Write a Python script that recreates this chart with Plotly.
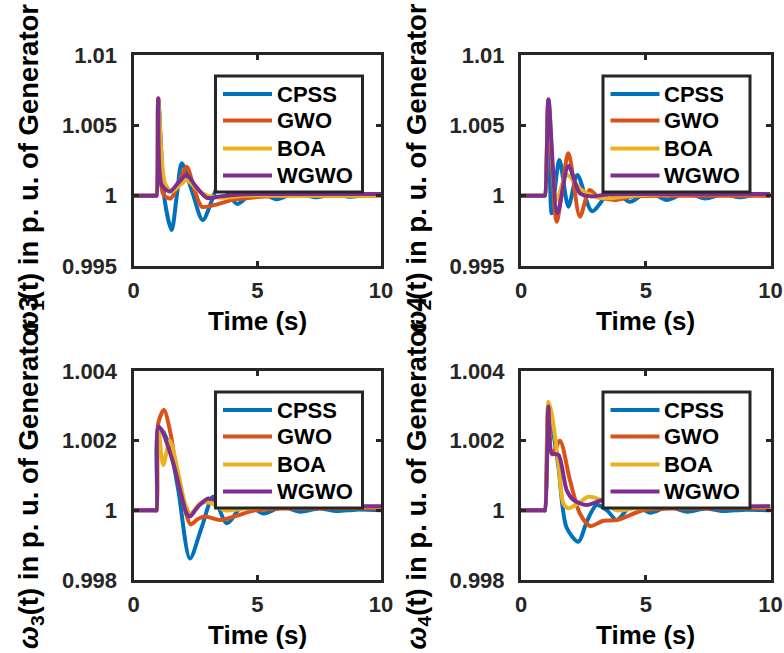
import plotly.graph_objects as go

# speed response of the four generators
# time (s) / speed (p.u.) pairs, one pair of lists per controller

# generator 1 (top left)
g1_cpss_t = [0, 0.9, 0.93, 1.0, 1.25, 1.54, 1.75, 1.95, 2.37, 2.8, 3.5, 4.19, 4.95, 5.78, 6.55, 7.33, 8.05, 8.75, 9.4, 10]
g1_cpss = [1.0, 1.0, 1.0, 1.0069, 0.9998, 0.99756, 1.0, 1.0023, 1.0003, 0.99827, 1.0008, 0.99941, 1.0004, 0.99974, 1.0002, 0.99989, 1.0001, 0.99993, 1.00005, 0.99998]
g1_gwo_t = [0, 0.9, 0.93, 1.0, 1.2, 1.5, 1.8, 2.15, 2.45, 2.76, 3.3, 4.0, 5.0, 6.0, 8.0, 10]
g1_gwo = [1.0, 1.0, 1.0, 1.0069, 1.0001, 0.9998, 1.0008, 1.00206, 1.0005, 0.99922, 0.99935, 0.9997, 0.9999, 1.0, 1.0, 1.0]
g1_boa_t = [0, 0.9, 0.93, 1.0, 1.27, 1.54, 1.85, 2.15, 2.6, 3.0, 3.6, 4.5, 6.0, 8.0, 10]
g1_boa = [1.0, 1.0, 1.0, 1.0068, 1.00088, 1.0003, 1.0007, 1.0011, 1.0004, 1.0, 0.99985, 1.0, 1.0, 1.0, 1.0]
g1_wgwo_t = [0, 0.9, 0.93, 1.0, 1.14, 1.47, 1.8, 2.15, 2.5, 2.96, 3.5, 4.5, 6.0, 8.0, 10]
g1_wgwo = [1.0, 1.0, 1.0, 1.0069, 1.00076, 1.0003, 1.0009, 1.00147, 1.0007, 0.99985, 0.99995, 1.0001, 1.00012, 1.00012, 1.00012]

# generator 2 (top right)
g2_cpss_t = [0, 0.93, 0.96, 1.1, 1.23, 1.54, 1.9, 2.26, 2.85, 3.65, 4.37, 5.1, 5.84, 6.6, 7.38, 8.1, 8.78, 9.4, 10]
g2_cpss = [1.0, 1.0, 1.0, 1.0068, 0.99875, 1.00254, 0.99922, 1.00147, 0.9989, 1.0004, 0.99957, 1.0003, 0.9997, 1.0002, 0.9998, 1.0001, 0.99988, 1.00005, 0.99995]
g2_gwo_t = [0, 0.93, 0.96, 1.1, 1.43, 1.9, 2.36, 2.75, 3.1, 3.8, 4.5, 6.0, 10]
g2_gwo = [1.0, 1.0, 1.0, 1.0068, 0.99815, 1.00301, 0.99851, 1.0004, 0.9999, 0.9997, 0.99995, 1.0, 1.0]
g2_boa_t = [0, 0.93, 0.96, 1.1, 1.43, 1.83, 2.43, 3.0, 3.4, 4.5, 6.0, 10]
g2_boa = [1.0, 1.0, 1.0, 1.0068, 0.9997, 1.00147, 1.0004, 0.9999, 0.9998, 1.0, 1.0001, 1.0001]
g2_wgwo_t = [0, 0.93, 0.96, 1.1, 1.46, 1.9, 2.36, 2.8, 3.5, 5.0, 10]
g2_wgwo = [1.0, 1.0, 1.0, 1.00685, 0.99875, 1.00211, 1.00017, 0.99995, 1.0001, 1.00012, 1.00012]

# generator 3 (bottom left)
g3_cpss_t = [0, 0.9, 0.93, 1.0, 1.14, 1.47, 1.81, 2.28, 2.75, 3.22, 3.77, 4.5, 5.24, 6.0, 6.73, 7.5, 8.2, 9.0, 10]
g3_cpss = [1.0, 1.0, 1.0, 1.0023, 1.0023, 1.0018, 1.00058, 0.99862, 0.9995, 1.00039, 0.99963, 1.0002, 0.99991, 1.0001, 0.99996, 1.00005, 0.99998, 1.00002, 1.0]
g3_gwo_t = [0, 0.9, 0.93, 1.0, 1.23, 1.5, 1.75, 2.05, 2.3, 2.6, 2.89, 3.5, 4.2, 4.9, 6.0, 8.0, 10]
g3_gwo = [1.0, 1.0, 1.0, 1.0025, 1.00288, 1.0022, 1.00106, 1.0001, 0.9996, 0.99975, 0.99982, 0.99972, 0.99985, 1.0, 1.00005, 1.00006, 1.00006]
g3_boa_t = [0, 0.9, 0.93, 1.0, 1.2, 1.47, 1.8, 2.08, 2.3, 2.7, 3.1, 3.7, 4.5, 6.0, 10]
g3_boa = [1.0, 1.0, 1.0, 1.0024, 1.0013, 1.002, 1.0011, 1.0002, 0.9999, 1.0002, 1.00022, 1.0, 1.00005, 1.0001, 1.0001]
g3_wgwo_t = [0, 0.9, 0.93, 1.0, 1.14, 1.61, 2.15, 2.28, 2.6, 3.02, 3.6, 4.5, 6.0, 10]
g3_wgwo = [1.0, 1.0, 1.0, 1.0024, 1.0023, 1.00135, 0.99991, 0.99982, 1.0001, 1.00034, 1.0002, 1.00012, 1.00012, 1.00012]

# generator 4 (bottom right)
g4_cpss_t = [0, 0.93, 0.96, 1.1, 1.3, 1.5, 1.83, 2.3, 2.65, 3.03, 3.45, 3.84, 4.5, 5.17, 5.9, 6.66, 7.4, 8.1, 9.0, 10]
g4_cpss = [1.0, 1.0, 1.0, 1.0029, 1.0022, 1.00125, 0.9995, 0.9991, 0.9997, 1.00015, 1.0, 0.99972, 1.0002, 0.99993, 1.0001, 0.99996, 1.00005, 0.99998, 1.00002, 1.0]
g4_gwo_t = [0, 0.93, 0.96, 1.1, 1.25, 1.56, 1.96, 2.36, 2.77, 3.3, 3.84, 4.9, 6.0, 10]
g4_gwo = [1.0, 1.0, 1.0, 1.0029, 1.0016, 1.002, 1.00087, 0.99991, 0.99955, 0.9997, 0.99972, 1.0, 1.00005, 1.00006]
g4_boa_t = [0, 0.93, 0.96, 1.1, 1.23, 1.5, 1.7, 1.9, 2.3, 2.7, 3.2, 3.84, 4.5, 6.0, 10]
g4_boa = [1.0, 1.0, 1.0, 1.00312, 1.00278, 1.00135, 1.0002, 1.00006, 1.0002, 1.00039, 1.0003, 1.0, 1.00005, 1.0001, 1.0001]
g4_wgwo_t = [0, 0.93, 0.96, 1.1, 1.23, 1.5, 1.83, 2.1, 2.63, 3.3, 4.0, 5.0, 10]
g4_wgwo = [1.0, 1.0, 1.0, 1.00298, 1.00164, 1.00159, 1.00058, 1.0003, 1.00015, 1.0003, 1.0002, 1.00012, 1.00012]

controllers = ["CPSS", "GWO", "BOA", "WGWO"]
x_ticks = [0, 5, 10]
y_ticks_top = [0.995, 1, 1.005, 1.01]
y_ticks_bottom = [0.998, 1, 1.002, 1.004]

panels = [
    [(g1_cpss_t, g1_cpss), (g1_gwo_t, g1_gwo), (g1_boa_t, g1_boa), (g1_wgwo_t, g1_wgwo)],
    [(g2_cpss_t, g2_cpss), (g2_gwo_t, g2_gwo), (g2_boa_t, g2_boa), (g2_wgwo_t, g2_wgwo)],
    [(g3_cpss_t, g3_cpss), (g3_gwo_t, g3_gwo), (g3_boa_t, g3_boa), (g3_wgwo_t, g3_wgwo)],
    [(g4_cpss_t, g4_cpss), (g4_gwo_t, g4_gwo), (g4_boa_t, g4_boa), (g4_wgwo_t, g4_wgwo)],
]

COLORS = ["#0072BD", "#D95319", "#EDB120", "#7E2F8E"]
FONT = "Liberation Sans, Arial, sans-serif"
AXIS_COLOR = "#262626"
W, H = 784, 653
LW = 4

# pixel boxes of the four axes (left, right, top, bottom)
boxes = [(133.5, 381, 55, 266), (521, 770.5, 55, 266),
         (133.5, 381, 371, 580), (521, 770.5, 371, 580)]

# legend rows, offset from the axes top (px)
legend_rows = [39, 65.5, 93.5, 120.5]


def px(x):
    return x / W


def py(y):
    return 1 - y / H


fig = go.Figure()

for i, series in enumerate(panels):
    suffix = "" if i == 0 else str(i + 1)
    for j, (t, v) in enumerate(series):
        fig.add_trace(go.Scatter(x=t, y=v, mode="lines", name=controllers[j], showlegend=False,
                                 line=dict(color=COLORS[j], width=LW, shape="spline", smoothing=0.8),
                                 xaxis="x" + suffix, yaxis="y" + suffix))

layout = dict(width=W, height=H, margin=dict(l=0, r=0, t=0, b=0),
              paper_bgcolor="white", plot_bgcolor="white", showlegend=False)

annotations = []
shapes = []
for i, (l, r, t, b) in enumerate(boxes):
    suffix = "" if i == 0 else str(i + 1)
    top_row = i < 2
    layout["xaxis" + suffix] = dict(
        domain=[px(l), px(r)], range=[0, 10], anchor="y" + suffix,
        tickvals=x_ticks, ticks="inside", ticklen=5, tickwidth=3, tickcolor=AXIS_COLOR,
        showline=True, linewidth=3, linecolor=AXIS_COLOR, mirror="ticks",
        showgrid=False, zeroline=False, automargin=False, ticklabelstandoff=3,
        tickfont=dict(family=FONT, size=22, weight="bold", color=AXIS_COLOR))
    layout["yaxis" + suffix] = dict(
        domain=[py(b), py(t)],
        range=[0.995, 1.01] if top_row else [0.998, 1.004],
        tickvals=y_ticks_top if top_row else y_ticks_bottom,
        anchor="x" + suffix,
        ticks="inside", ticklen=5, tickwidth=3, tickcolor=AXIS_COLOR,
        showline=True, linewidth=3, linecolor=AXIS_COLOR, mirror="ticks",
        showgrid=False, zeroline=False, automargin=False, ticklabelstandoff=9,
        tickfont=dict(family=FONT, size=22, weight="bold", color=AXIS_COLOR))

    # legend box drawn by hand so the rows sit as tight as in the original
    shapes.append(dict(type="rect", xref="paper", yref="paper",
                       x0=px(l + 82), x1=px(l + 229), y0=py(t + 137), y1=py(t + 21),
                       fillcolor="white", line=dict(color=AXIS_COLOR, width=3), layer="above"))
    for j, name in enumerate(controllers):
        row = t + legend_rows[j]
        shapes.append(dict(type="line", xref="paper", yref="paper",
                           x0=px(l + 89.5), x1=px(l + 138.5), y0=py(row), y1=py(row),
                           line=dict(color=COLORS[j], width=LW), layer="above"))
        annotations.append(dict(text=name, x=px(l + 141), y=py(row), xref="paper", yref="paper",
                                showarrow=False, xanchor="left", yanchor="middle",
                                font=dict(family=FONT, size=22, weight="bold", color="black")))

    # x label
    annotations.append(dict(text="Time (s)", x=px((l + r) / 2), y=py(b + 55),
                            xref="paper", yref="paper", showarrow=False,
                            xanchor="center", yanchor="middle",
                            font=dict(family=FONT, size=26, weight="bold", color="black")))
    # y label, long enough to run into its neighbour like the original
    annotations.append(dict(text="<i>ω</i><sub>%d</sub>(t) in p. u. of Generator %d" % (i + 1, i + 1),
                            x=px(l - 103), y=py((t + b) / 2 - 3),
                            xref="paper", yref="paper", showarrow=False, textangle=-90,
                            xanchor="center", yanchor="middle",
                            font=dict(family=FONT, size=27.5, weight="bold", color="black")))

layout["annotations"] = annotations
layout["shapes"] = shapes
fig.update_layout(**layout)

# the page body has a default 8px margin, drop it so the figure sits at 0,0
fig.write_html("out.html", config={"displayModeBar": False},
               post_script="document.body.style.margin='0';")
